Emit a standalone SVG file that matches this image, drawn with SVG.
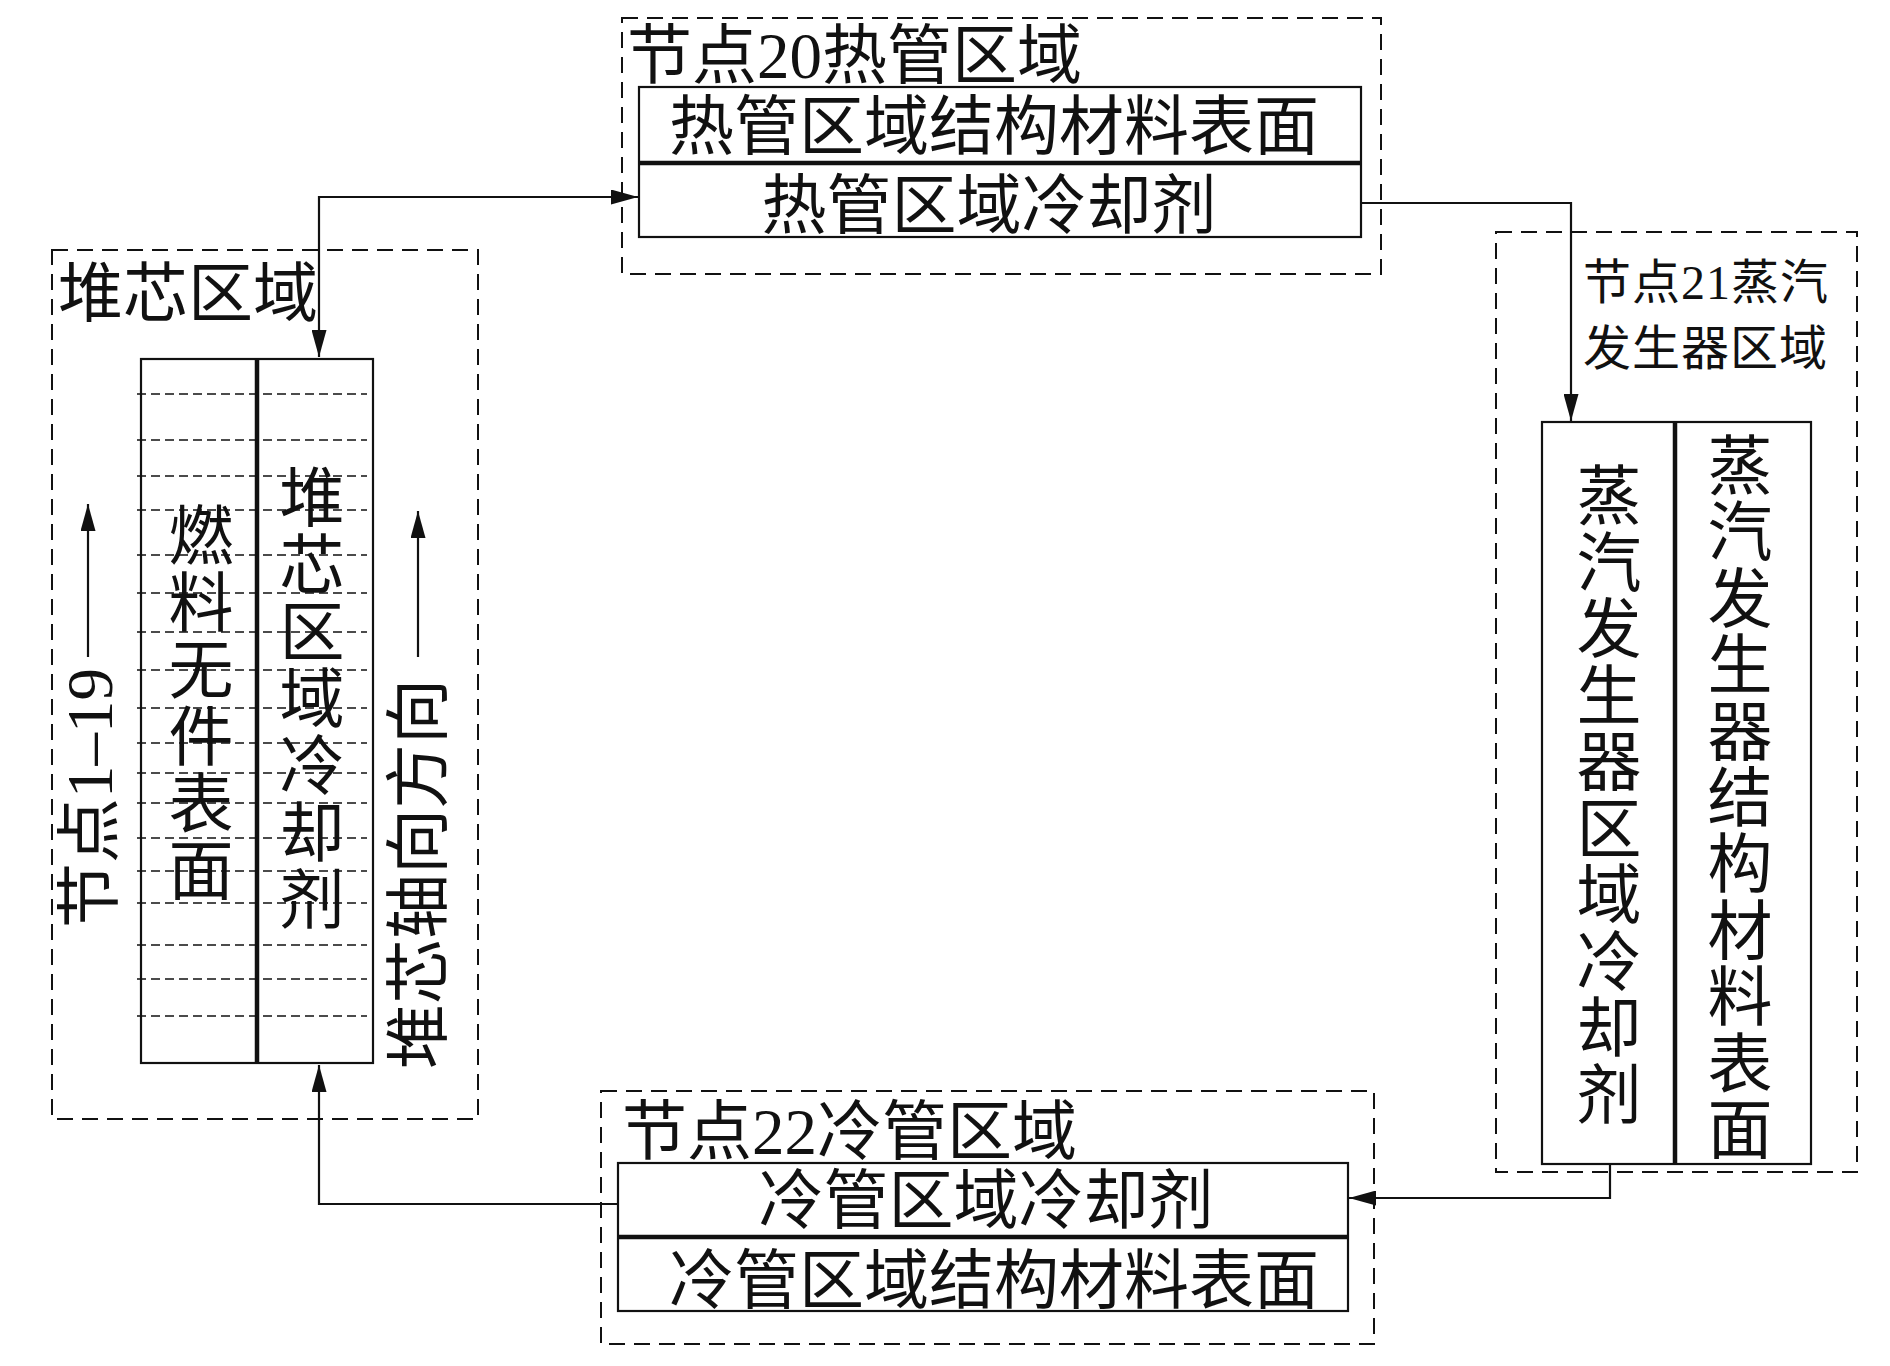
<svg xmlns="http://www.w3.org/2000/svg" width="1890" height="1366" viewBox="0 0 1890 1366">
<style>
.dash{fill:none;stroke:#111;stroke-width:2;stroke-dasharray:16 9}
.box{fill:#fff;stroke:#111;stroke-width:2.2}
.div{stroke:#111;stroke-width:4.5}
.grid{stroke:#111;stroke-width:1.6;stroke-dasharray:9 5}
.conn{fill:none;stroke:#111;stroke-width:2.2}
.t{font-family:"Liberation Serif","Noto Sans CJK SC",serif;font-size:65px;fill:#111}
.s{font-size:48px;letter-spacing:1px}
.m{text-anchor:middle}
</style>
<defs>
<marker id="ah" markerUnits="userSpaceOnUse" markerWidth="27" markerHeight="15" viewBox="0 0 27 15" refX="27" refY="7.5" orient="auto-start-reverse">
<path d="M0,0 L27,7.5 L0,15 z" fill="#111"/>
</marker>
</defs>
<rect width="1890" height="1366" fill="#fff"/>

<g id="core">
<rect class="dash" x="52" y="250" width="426" height="869"/>
<rect class="box" x="141" y="359" width="232" height="704"/>
<g id="core-grid">
<line class="grid" x1="137" x2="367" y1="394" y2="394"/>
<line class="grid" x1="137" x2="367" y1="440" y2="440"/>
<line class="grid" x1="137" x2="367" y1="476" y2="476"/>
<line class="grid" x1="137" x2="367" y1="510" y2="510"/>
<line class="grid" x1="137" x2="367" y1="555" y2="555"/>
<line class="grid" x1="137" x2="367" y1="593" y2="593"/>
<line class="grid" x1="137" x2="367" y1="632" y2="632"/>
<line class="grid" x1="137" x2="367" y1="670" y2="670"/>
<line class="grid" x1="137" x2="367" y1="708" y2="708"/>
<line class="grid" x1="137" x2="367" y1="743" y2="743"/>
<line class="grid" x1="137" x2="367" y1="773" y2="773"/>
<line class="grid" x1="137" x2="367" y1="803" y2="803"/>
<line class="grid" x1="137" x2="367" y1="838" y2="838"/>
<line class="grid" x1="137" x2="367" y1="871" y2="871"/>
<line class="grid" x1="137" x2="367" y1="903" y2="903"/>
<line class="grid" x1="137" x2="367" y1="945" y2="945"/>
<line class="grid" x1="137" x2="367" y1="979" y2="979"/>
<line class="grid" x1="137" x2="367" y1="1016" y2="1016"/>
</g>
<line class="div" x1="257" y1="359" x2="257" y2="1063"/>
<text class="t" x="58" y="316">堆芯区域</text>
<text class="t m"><tspan x="201" y="559">燃</tspan><tspan x="201" y="626">料</tspan><tspan x="201" y="693">无</tspan><tspan x="201" y="760">件</tspan><tspan x="201" y="827">表</tspan><tspan x="201" y="894">面</tspan></text>
<text class="t m"><tspan x="312" y="521">堆</tspan><tspan x="312" y="588">芯</tspan><tspan x="312" y="655">区</tspan><tspan x="312" y="722">域</tspan><tspan x="312" y="789">冷</tspan><tspan x="312" y="856">却</tspan><tspan x="312" y="923">剂</tspan></text>
<line class="conn" x1="88" y1="657" x2="88" y2="504" marker-end="url(#ah)"/>
<line class="conn" x1="418" y1="657" x2="418" y2="511" marker-end="url(#ah)"/>
<text class="t m" x="112" y="798" transform="rotate(-90 112 798)">节点1–19</text>
<text class="t m" x="441" y="874" transform="rotate(-90 441 874)">堆芯轴向方向</text>
</g>

<g id="hotpipe">
<rect class="dash" x="622" y="18" width="759" height="256"/>
<rect class="box" x="639" y="87" width="722" height="150"/>
<line class="div" x1="639" y1="163" x2="1361" y2="163"/>
<text class="t" x="627" y="78">节点20热管区域</text>
<text class="t m" x="994" y="149">热管区域结构材料表面</text>
<text class="t m" x="989" y="228">热管区域冷却剂</text>
</g>

<g id="steamgen">
<rect class="dash" x="1496" y="232" width="361" height="940"/>
<rect class="box" x="1542" y="422" width="269" height="742"/>
<line class="div" x1="1675" y1="422" x2="1675" y2="1164"/>
<text class="t s" x="1583" y="299">节点21蒸汽</text>
<text class="t s" x="1583" y="365">发生器区域</text>
<text class="t m"><tspan x="1609" y="519">蒸</tspan><tspan x="1609" y="585.5">汽</tspan><tspan x="1609" y="652">发</tspan><tspan x="1609" y="718.5">生</tspan><tspan x="1609" y="785">器</tspan><tspan x="1609" y="851.5">区</tspan><tspan x="1609" y="918">域</tspan><tspan x="1609" y="984.5">冷</tspan><tspan x="1609" y="1051">却</tspan><tspan x="1609" y="1117.5">剂</tspan></text>
<text class="t m"><tspan x="1740" y="489">蒸</tspan><tspan x="1740" y="555.4">汽</tspan><tspan x="1740" y="621.8">发</tspan><tspan x="1740" y="688.2">生</tspan><tspan x="1740" y="754.6">器</tspan><tspan x="1740" y="821">结</tspan><tspan x="1740" y="887.4">构</tspan><tspan x="1740" y="953.8">材</tspan><tspan x="1740" y="1020.2">料</tspan><tspan x="1740" y="1086.6">表</tspan><tspan x="1740" y="1153">面</tspan></text>
</g>

<g id="coldpipe">
<rect class="dash" x="601" y="1091" width="773" height="253"/>
<rect class="box" x="618" y="1163" width="730" height="148"/>
<line class="div" x1="618" y1="1237" x2="1348" y2="1237"/>
<text class="t" x="622" y="1154">节点22冷管区域</text>
<text class="t m" x="986" y="1223">冷管区域冷却剂</text>
<text class="t m" x="994" y="1303">冷管区域结构材料表面</text>
</g>

<g id="connectors">
<path class="conn" d="M319,357 V197 H638" marker-start="url(#ah)" marker-end="url(#ah)"/>
<path class="conn" d="M1361,203 H1571 V421" marker-end="url(#ah)"/>
<path class="conn" d="M1610,1164 V1198 H1349" marker-end="url(#ah)"/>
<path class="conn" d="M618,1204 H319 V1065" marker-end="url(#ah)"/>
</g>
</svg>
